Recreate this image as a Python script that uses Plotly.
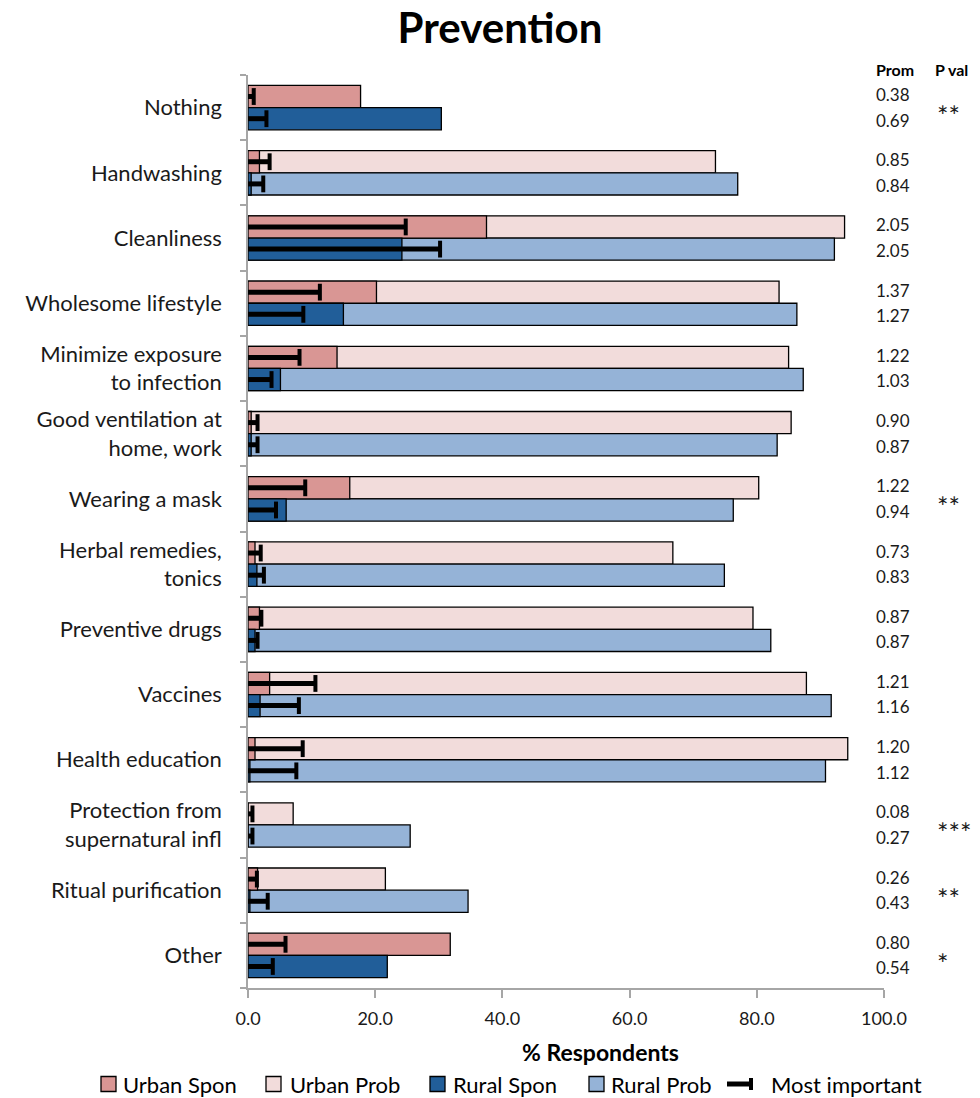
import plotly.graph_objects as go

# ---- data -------------------------------------------------------------
categories = [
    "Nothing", "Handwashing", "Cleanliness", "Wholesome lifestyle",
    "Minimize exposure<br>to infection", "Good ventilation at<br>home, work",
    "Wearing a mask", "Herbal remedies,<br>tonics", "Preventive drugs",
    "Vaccines", "Health education", "Protection from<br>supernatural infl",
    "Ritual purification", "Other",
]
# % respondents mentioning spontaneously
urban_spon = [17.7, 1.8, 37.5, 20.2, 14.0, 0.5, 16.0, 1.1, 1.8, 3.4, 1.1, 0.0, 1.5, 31.8]
rural_spon = [30.4, 0.5, 24.2, 15.0, 5.1, 0.5, 6.0, 1.4, 1.1, 1.9, 0.3, 0.0, 0.3, 21.9]
# % respondents mentioning spontaneously or after probing (total)
urban_prob = [None, 73.5, 93.8, 83.5, 85.0, 85.4, 80.3, 66.8, 79.4, 87.8, 94.3, 7.1, 21.6, None]
rural_prob = [None, 77.0, 92.2, 86.3, 87.3, 83.2, 76.3, 74.9, 82.2, 91.7, 90.8, 25.5, 34.6, None]
# % naming the item as most important
urban_most = [0.9, 3.4, 24.8, 11.3, 8.1, 1.5, 9.0, 2.0, 2.1, 10.6, 8.6, 0.7, 1.4, 5.9]
rural_most = [2.9, 2.4, 30.2, 8.7, 3.7, 1.5, 4.4, 2.5, 1.5, 8.0, 7.6, 0.7, 3.1, 3.9]
# prominence indices and significance of urban/rural difference
urban_prom = ["0.38", "0.85", "2.05", "1.37", "1.22", "0.90", "1.22", "0.73", "0.87", "1.21", "1.20", "0.08", "0.26", "0.80"]
rural_prom = ["0.69", "0.84", "2.05", "1.27", "1.03", "0.87", "0.94", "0.83", "0.87", "1.16", "1.12", "0.27", "0.43", "0.54"]
p_val = ["**", "", "", "", "", "", "**", "", "", "", "", "***", "**", "*"]

x_ticks = [0, 20, 40, 60, 80, 100]

# ---- colours / geometry --------------------------------------------------
C_US, C_UP, C_RS, C_RP = "#D99694", "#F2DCDB", "#215E99", "#95B3D7"
FONT = "Lato, 'Open Sans', sans-serif"
W, H = 980, 1098
ML, MR, MT, MB = 248, 96, 75, 110
PW, PH = W - ML - MR, H - MT - MB


def px(xp):
    return (xp - ML) / PW


def py(yp):
    return (H - MB - yp) / PH


n = len(categories)
pos = list(range(n))
OFF, BW = 0.17, 0.34
y_urban = [p - OFF for p in pos]
y_rural = [p + OFF for p in pos]

fig = go.Figure()
outline = dict(color="black", width=1.3)

fig.add_trace(go.Bar(x=urban_prob, y=y_urban, orientation="h", width=BW,
                     marker=dict(color=C_UP, line=outline), name="Urban Prob"))
fig.add_trace(go.Bar(x=rural_prob, y=y_rural, orientation="h", width=BW,
                     marker=dict(color=C_RP, line=outline), name="Rural Prob"))
fig.add_trace(go.Bar(x=urban_spon, y=y_urban, orientation="h", width=BW,
                     marker=dict(color=C_US, line=outline), name="Urban Spon"))
fig.add_trace(go.Bar(x=rural_spon, y=y_rural, orientation="h", width=BW,
                     marker=dict(color=C_RS, line=outline), name="Rural Spon"))

# "most important" bars: thick line from zero with an end cap
mx, my = [], []
for vals, ys in ((urban_most, y_urban), (rural_most, y_rural)):
    for v, yy in zip(vals, ys):
        mx += [0, v, None]
        my += [yy, yy, None]
fig.add_trace(go.Scatter(x=mx, y=my, mode="lines",
                         line=dict(color="black", width=5), name="Most important"))
fig.add_trace(go.Scatter(x=urban_most + rural_most, y=y_urban + y_rural, mode="markers",
                         marker=dict(symbol="line-ns", size=12,
                                     line=dict(color="black", width=4)),
                         name="Most important cap"))

# ---- right-hand annotation columns --------------------------------------
ann = []
for i in pos:
    ann.append(dict(x=px(874), xref="paper", y=i - 0.2, yref="y", text=urban_prom[i],
                    showarrow=False, xanchor="left", yanchor="middle",
                    font=dict(family=FONT, size=17, color="#1a1a1a")))
    ann.append(dict(x=px(874), xref="paper", y=i + 0.19, yref="y", text=rural_prom[i],
                    showarrow=False, xanchor="left", yanchor="middle",
                    font=dict(family=FONT, size=17, color="#1a1a1a")))
    if p_val[i]:
        ann.append(dict(x=px(935), xref="paper", y=i + 0.12, yref="y", text=p_val[i],
                        showarrow=False, xanchor="left", yanchor="middle",
                        font=dict(family=FONT, size=27, color="#1a1a1a")))
for label, xp in (("Prom", 874), ("P val", 933)):
    ann.append(dict(x=px(xp), xref="paper", y=py(69), yref="paper", text=label,
                    showarrow=False, xanchor="left", yanchor="middle",
                    font=dict(family=FONT, size=16, color="black", weight="bold")))

# x axis title
ann.append(dict(x=px(600), xref="paper", y=py(1052), yref="paper", text="% Respondents",
                showarrow=False, xanchor="center", yanchor="middle",
                font=dict(family=FONT, size=23, color="black", weight="bold")))

# ---- legend ---------------------------------------------------------------
shapes = []
LEG_Y = 1084
legend_items = [("Urban Spon", C_US, 101, 121), ("Urban Prob", C_UP, 266, 288),
                ("Rural Spon", C_RS, 430, 451), ("Rural Prob", C_RP, 589, 609)]
for label, col, sq, tx in legend_items:
    shapes.append(dict(type="rect", xref="paper", yref="paper",
                       x0=px(sq), x1=px(sq + 15), y0=py(LEG_Y + 7.5), y1=py(LEG_Y - 7.5),
                       fillcolor=col, line=dict(color="black", width=1.3)))
    ann.append(dict(x=px(tx), xref="paper", y=py(LEG_Y), yref="paper", text=label,
                    showarrow=False, xanchor="left", yanchor="middle",
                    font=dict(family=FONT, size=22, color="black")))
shapes.append(dict(type="line", xref="paper", yref="paper", x0=px(727), x1=px(752),
                   y0=py(LEG_Y), y1=py(LEG_Y), line=dict(color="black", width=5)))
shapes.append(dict(type="line", xref="paper", yref="paper", x0=px(751), x1=px(751),
                   y0=py(LEG_Y - 6), y1=py(LEG_Y + 6), line=dict(color="black", width=4)))
ann.append(dict(x=px(769), xref="paper", y=py(LEG_Y), yref="paper", text="Most important",
                showarrow=False, xanchor="left", yanchor="middle",
                font=dict(family=FONT, size=22, color="black")))

fig.update_layout(
    width=W, height=H,
    margin=dict(l=ML, r=MR, t=MT, b=MB),
    barmode="overlay",
    plot_bgcolor="white", paper_bgcolor="white",
    showlegend=False,
    title=dict(text="Prevention", x=500 / W, xanchor="center", y=1 - 28 / H,
               yanchor="middle",
               font=dict(family=FONT, size=42, color="black", weight="bold")),
    xaxis=dict(range=[0, 100], tickvals=x_ticks, tickformat=".1f",
               showgrid=False, zeroline=False, showline=True,
               linecolor="#A6A6A6", linewidth=1.5,
               ticks="outside", ticklen=8, tickcolor="#A6A6A6", tickwidth=1.5,
               tickfont=dict(family=FONT, size=18, color="#1a1a1a"),
               ticklabelstandoff=6),
    yaxis=dict(range=[n - 0.5, -0.5], tickvals=pos, ticktext=categories,
               showgrid=False, zeroline=False, showline=True,
               linecolor="#A6A6A6", linewidth=1.5, ticks="",
               tickfont=dict(family=FONT, size=22, color="#1a1a1a"),
               ticklabelstandoff=20,
               minor=dict(tick0=-0.5, dtick=1, ticks="outside", ticklen=6,
                          tickcolor="#A6A6A6", tickwidth=1.5, showgrid=False)),
    annotations=ann,
    shapes=shapes,
)

fig.write_html("out.html")
